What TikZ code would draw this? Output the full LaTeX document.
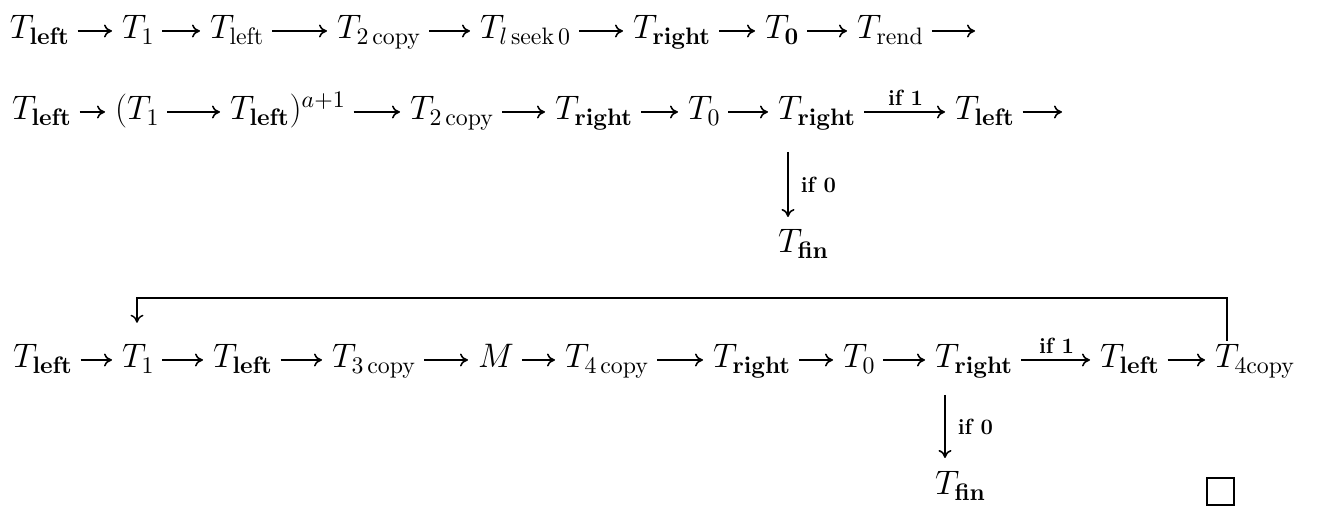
\documentclass[tikz,border=0pt]{standalone}
\usepackage{fix-cm}
\usetikzlibrary{arrows.meta}
\tikzset{
  txt/.style={anchor=base west, inner sep=0pt, outer sep=0pt, font=\fontsize{17}{20}\selectfont},
  arrw/.style={-{To[length=4pt,width=6.5pt]}, line width=0.8pt, shorten <=4pt, shorten >=5pt},
  downarr/.style={-{To[length=4pt,width=6.5pt]}, line width=0.8pt},
  loopline/.style={-{To[length=4pt,width=6.5pt]}, line width=0.75pt},
  condlab/.style={font=\fontsize{11}{13}\selectfont\bfseries, inner sep=0pt},
}
\begin{document}
\begin{tikzpicture}[x=0.5pt,y=-0.5pt]
\useasboundingbox (0,0) rectangle (1319,506);
% ---- row 1
\node[txt] (a1) at (10,39)  {$T_{\mathbf{left}}$};
\node[txt] (a2) at (122,39) {$T_1$};
\node[txt] (a3) at (210,39) {$T_{\mathrm{left}}$};
\node[txt] (a4) at (337,39) {$T_{2\,\mathrm{copy}}$};
\node[txt] (a5) at (480,39) {$T_{l\,\mathrm{seek}\,0}$};
\node[txt] (a6) at (633,39) {$T_{\mathbf{right}}$};
\node[txt] (a7) at (765,39) {$T_{\mathbf{0}}$};
\node[txt] (a8) at (857,39) {$T_{\mathrm{rend}}$};
\coordinate (a9) at (975,39);
\foreach \p/\q in {a1/a2,a2/a3,a3/a4,a4/a5,a5/a6,a6/a7,a7/a8}
  \draw[arrw] ([yshift=4pt]\p.base east) -- ([yshift=4pt]\q.base west);
\draw[arrw, shorten >=0pt] ([yshift=4pt]a8.base east) -- ([yshift=4pt]a9);
% ---- row 2
\node[txt] (b1) at (12,120)  {$T_{\mathbf{left}}$};
\node[txt] (b2) at (115,120) {$(T_1$};
\node[txt] (b3) at (230,120) {$T_{\mathbf{left}})^{a+1}$};
\node[txt] (b4) at (410,120) {$T_{2\,\mathrm{copy}}$};
\node[txt] (b5) at (555,120) {$T_{\mathbf{right}}$};
\node[txt] (b6) at (688,120) {$T_0$};
\node[txt] (b7) at (778,120) {$T_{\mathbf{right}}$};
\node[txt] (b8) at (955,120) {$T_{\mathbf{left}}$};
\coordinate (b9) at (1062,120);
\node[txt] (b10) at (778,253) {$T_{\mathbf{fin}}$};
\foreach \p/\q in {b1/b2,b2/b3,b3/b4,b4/b5,b5/b6,b6/b7}
  \draw[arrw] ([yshift=4pt]\p.base east) -- ([yshift=4pt]\q.base west);
\draw[arrw] ([yshift=4pt]b7.base east) -- node[condlab, above=3pt]{if 1} ([yshift=4pt]b8.base west);
\draw[arrw, shorten >=0pt] ([yshift=4pt]b8.base east) -- ([yshift=4pt]b9);
\draw[downarr] ([xshift=5pt,yshift=-16pt]b7.base west) -- node[condlab, right=6pt]{if 0} ([xshift=5pt,yshift=18pt]b10.base west);
% ---- row 3
\node[txt] (c1) at (13,368)   {$T_{\mathbf{left}}$};
\node[txt] (c2) at (122,368)  {$T_1$};
\node[txt] (c3) at (213,368)  {$T_{\mathbf{left}}$};
\node[txt] (c4) at (332,368)  {$T_{3\,\mathrm{copy}}$};
\node[txt] (c5) at (478,368)  {$M$};
\node[txt] (c6) at (565,368)  {$T_{4\,\mathrm{copy}}$};
\node[txt] (c7) at (713,368)  {$T_{\mathbf{right}}$};
\node[txt] (c8) at (843,368)  {$T_0$};
\node[txt] (c9) at (935,368)  {$T_{\mathbf{right}}$};
\node[txt] (c10) at (1100,368) {$T_{\mathbf{left}}$};
\node[txt] (c11) at (1215,368) {$T_{4\mathrm{copy}}$};
\node[txt] (c12) at (935,495)  {$T_{\mathbf{fin}}$};
\foreach \p/\q in {c1/c2,c2/c3,c3/c4,c4/c5,c5/c6,c6/c7,c7/c8,c8/c9,c10/c11}
  \draw[arrw] ([yshift=4pt]\p.base east) -- ([yshift=4pt]\q.base west);
\draw[arrw] ([yshift=4pt]c9.base east) -- node[condlab, above=3pt]{if 1} ([yshift=4pt]c10.base west);
\draw[downarr] ([xshift=5pt,yshift=-13.5pt]c9.base west) -- node[condlab, right=6pt]{if 0} ([xshift=5pt,yshift=18.5pt]c12.base west);
% loop back
\coordinate (loopy) at (0,298);
\coordinate (r1) at ([xshift=6pt,yshift=2pt]c11.north west);
\coordinate (l1) at ([xshift=7.5pt]c2.north west);
\draw[loopline] (r1) -- (r1 |- loopy) -- (l1 |- loopy) -- ([yshift=11pt]l1);
% end mark
\node[draw, line width=1pt, minimum width=13.5pt, minimum height=13.5pt, inner sep=0pt] (qed) at (1220,491.5) {};
\end{tikzpicture}
\end{document}
